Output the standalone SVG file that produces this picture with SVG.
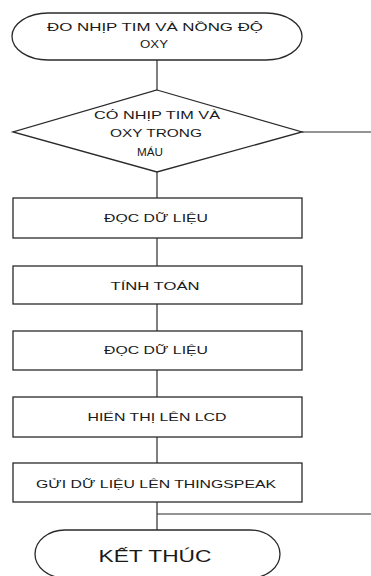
<svg xmlns="http://www.w3.org/2000/svg" width="371" height="576" viewBox="0 0 371 576">
  <style>
    .shape { fill: #ffffff; stroke: #2a2a2a; stroke-width: 1.3; }
    .conn { fill: none; stroke: #2a2a2a; stroke-width: 1.2; }
    .lbl { font-family: "Liberation Sans", Arial, sans-serif; font-size: 10.5px; fill: #1a1a1a; text-anchor: middle; dominant-baseline: central; }
    .big { font-size: 17px; }
  </style>
  <rect width="371" height="576" fill="#ffffff"/>

  <!-- connectors -->
  <g id="connectors">
    <line class="conn" x1="157" y1="60" x2="157" y2="90"/>
    <line class="conn" x1="302" y1="132" x2="371" y2="132"/>
    <line class="conn" x1="157" y1="172" x2="157" y2="198"/>
    <line class="conn" x1="157" y1="238" x2="157" y2="266"/>
    <line class="conn" x1="157" y1="304" x2="157" y2="331"/>
    <line class="conn" x1="157" y1="370" x2="157" y2="397"/>
    <line class="conn" x1="157" y1="437" x2="157" y2="463"/>
    <line class="conn" x1="157" y1="502" x2="157" y2="530"/>
    <line class="conn" x1="157" y1="514" x2="371" y2="514"/>
  </g>

  <g id="start">
    <rect class="shape" x="12" y="13" width="290" height="47" rx="36" ry="23.5"/>
    <text class="lbl" x="155" y="27" textLength="216" lengthAdjust="spacingAndGlyphs">ĐO NHỊP TIM VÀ NỒNG ĐỘ</text>
    <text class="lbl" x="154" y="44" textLength="28" lengthAdjust="spacingAndGlyphs">OXY</text>
  </g>

  <g id="check">
    <polygon class="shape" points="157,90 302,132 157,172 13,132"/>
    <text class="lbl" x="157" y="115" textLength="126" lengthAdjust="spacingAndGlyphs">CÓ NHỊP TIM VÀ</text>
    <text class="lbl" x="156" y="133" textLength="92" lengthAdjust="spacingAndGlyphs">OXY TRONG</text>
    <text class="lbl" x="150" y="152" textLength="26" lengthAdjust="spacingAndGlyphs">MÁU</text>
  </g>

  <g id="read1">
    <rect class="shape" x="13" y="198" width="289" height="40"/>
    <text class="lbl" x="156" y="218" textLength="104" lengthAdjust="spacingAndGlyphs">ĐỌC DỮ LIỆU</text>
  </g>

  <g id="compute">
    <rect class="shape" x="13" y="266" width="289" height="38"/>
    <text class="lbl" x="155" y="286" textLength="89" lengthAdjust="spacingAndGlyphs">TÍNH TOÁN</text>
  </g>

  <g id="read2">
    <rect class="shape" x="13" y="331" width="289" height="39"/>
    <text class="lbl" x="156" y="350" textLength="104" lengthAdjust="spacingAndGlyphs">ĐỌC DỮ LIỆU</text>
  </g>

  <g id="display">
    <rect class="shape" x="13" y="397" width="289" height="40"/>
    <text class="lbl" x="157" y="417" textLength="139" lengthAdjust="spacingAndGlyphs">HIỂN THỊ LÊN LCD</text>
  </g>

  <g id="upload">
    <rect class="shape" x="13" y="463" width="289" height="39"/>
    <text class="lbl" x="156" y="484" textLength="240" lengthAdjust="spacingAndGlyphs">GỬI DỮ LIỆU LÊN THINGSPEAK</text>
  </g>

  <g id="end">
    <rect class="shape" x="35" y="530" width="245" height="48" rx="30" ry="24"/>
    <text class="lbl big" x="155" y="556" textLength="113" lengthAdjust="spacingAndGlyphs">KẾT THÚC</text>
  </g>
</svg>
